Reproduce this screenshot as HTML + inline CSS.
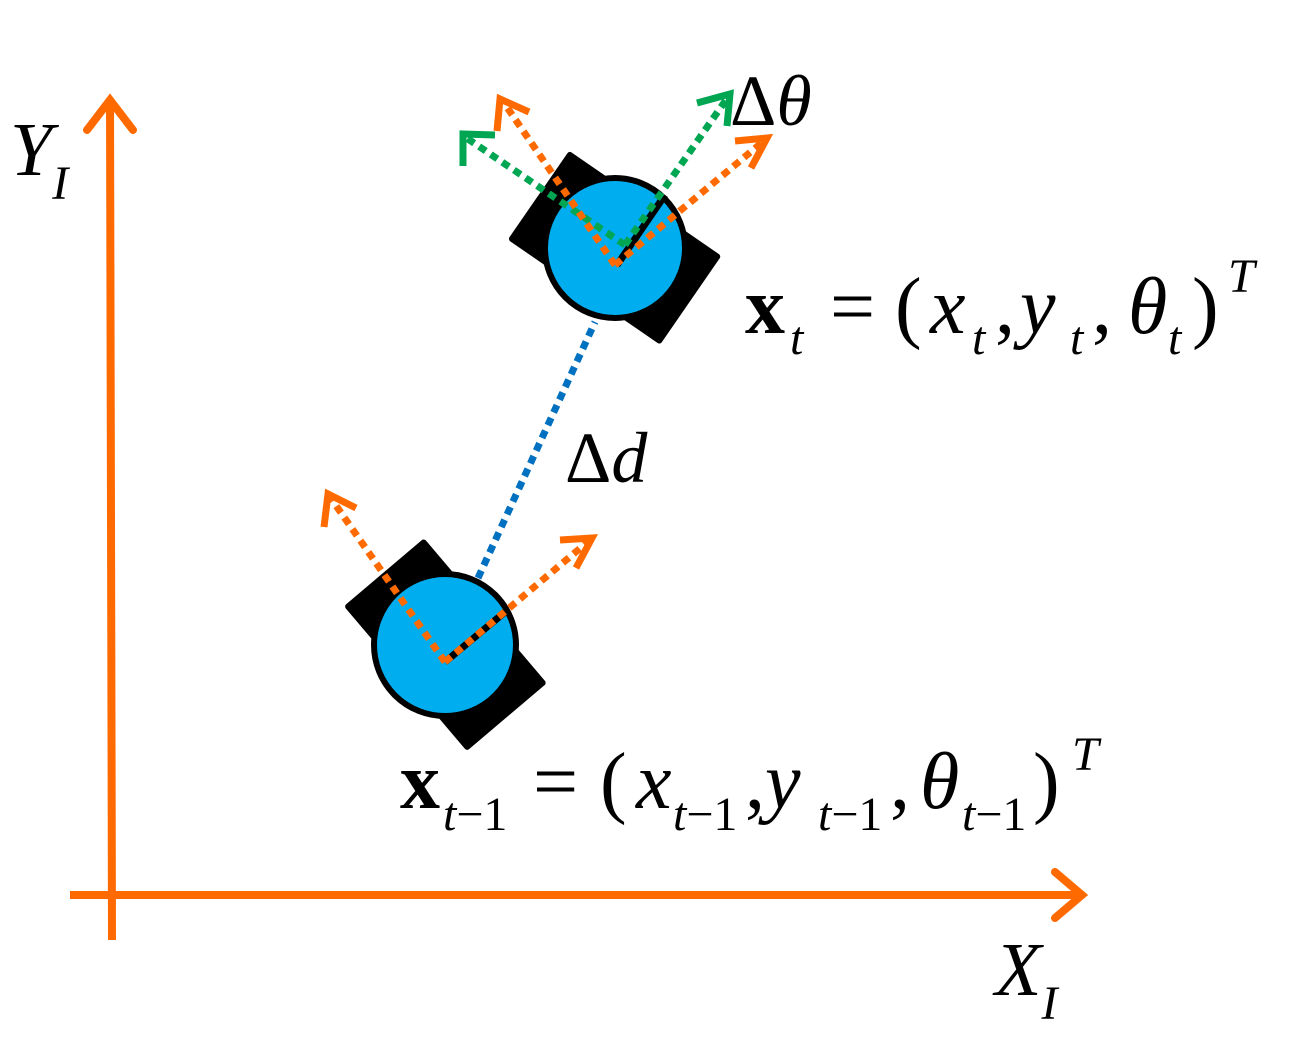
<!DOCTYPE html>
<html><head><meta charset="utf-8"><style>
html,body{margin:0;padding:0;background:#fff;}
svg{display:block;}
text{font-family:"Liberation Serif",serif;fill:#000;}
.it{font-style:italic;}
.up{font-style:normal;}
</style></head><body>
<svg width="1310" height="1053" viewBox="0 0 1310 1053">
<g stroke="#FF6A00" stroke-width="8" fill="none" stroke-linecap="round">
  <line x1="112" y1="940" x2="110" y2="100" stroke-linecap="butt"/>
  <polyline points="87,130 110,100 133,130"/>
</g>
<g stroke="#FF6A00" stroke-width="8" fill="none" stroke-linecap="round">
  <line x1="70" y1="895" x2="1082" y2="895" stroke-linecap="butt"/>
  <polyline points="1055,872 1082,895 1055,918"/>
</g>
<text class="it" x="10" y="175" font-size="76">Y<tspan font-size="48" dy="24">I</tspan></text>
<text class="it" x="995" y="995" font-size="76">X<tspan font-size="48" dy="24">I</tspan></text>

<line x1="478" y1="578" x2="595" y2="322" stroke="#0070C0" stroke-width="7" stroke-dasharray="8,6"/>
<text x="565" y="482" font-size="72"><tspan class="up">Δ</tspan><tspan class="it">d</tspan></text>

<g>
  <rect x="350" y="592" width="190" height="105" fill="#000" transform="rotate(49.7 445 645)" rx="3"/>
  <circle cx="445" cy="645" r="71" fill="#00AEEF" stroke="#000" stroke-width="6"/>
  <line x1="445" y1="662" x2="505" y2="612" stroke="#000" stroke-width="7"/>
  <g stroke="#FF6A00" stroke-width="7" fill="none" stroke-dasharray="8,6">
    <line x1="445" y1="662" x2="590" y2="540"/>
    <line x1="445" y1="662" x2="330" y2="497"/>
  </g>
  <g stroke="#FF6A00" stroke-width="7" fill="none">
    <polyline points="560,540 592,538 576,568"/>
    <polyline points="324,527 328,494 356,508"/>
  </g>
</g>

<g>
  <rect x="522" y="194" width="185" height="108" fill="#000" transform="rotate(34.6 615 248)" rx="3"/>
  <circle cx="615" cy="248" r="70" fill="#00AEEF" stroke="#000" stroke-width="6"/>
  <line x1="617" y1="265" x2="665" y2="195" stroke="#000" stroke-width="7"/>
  <g stroke="#00A651" stroke-width="7" fill="none" stroke-dasharray="8,6">
    <line x1="625" y1="245" x2="728" y2="97"/>
    <line x1="625" y1="245" x2="465" y2="137"/>
  </g>
  <g stroke="#FF6A00" stroke-width="7" fill="none" stroke-dasharray="8,6">
    <line x1="615" y1="265" x2="765" y2="140"/>
    <line x1="615" y1="265" x2="502" y2="100"/>
  </g>
  <g stroke="#00A651" stroke-width="7" fill="none">
    <polyline points="697,103 730,94 727,126"/>
    <polyline points="463,166 463,134 495,135"/>
  </g>
  <g stroke="#FF6A00" stroke-width="7" fill="none">
    <polyline points="735,141 767,138 751,168"/>
    <polyline points="497,131 500,99 529,112"/>
  </g>
</g>
<text x="730" y="125" font-size="72"><tspan class="up">Δ</tspan><tspan class="it">θ</tspan></text>

<g font-size="80">
  <text x="745" y="333" font-weight="bold">x</text>
  <text x="790" y="354" class="it" font-size="48">t</text>
  <text x="830" y="333">=</text>
  <text x="895" y="333">(</text>
  <text x="930" y="333" class="it">x</text>
  <text x="972" y="354" class="it" font-size="48">t</text>
  <text x="995" y="333">,</text>
  <text x="1020" y="333" class="it">y</text>
  <text x="1070" y="354" class="it" font-size="48">t</text>
  <text x="1092" y="333">,</text>
  <text x="1128" y="333" class="it">θ</text>
  <text x="1168" y="354" class="it" font-size="48">t</text>
  <text x="1192" y="333">)</text>
  <text x="1228" y="292" class="it" font-size="48">T</text>
</g>
<g font-size="80">
  <text x="400" y="808" font-weight="bold">x</text>
  <text x="443" y="830" class="it" font-size="48">t<tspan font-style="normal">−1</tspan></text>
  <text x="533" y="808">=</text>
  <text x="600" y="808">(</text>
  <text x="636" y="808" class="it">x</text>
  <text x="673" y="830" class="it" font-size="48">t<tspan font-style="normal">−1</tspan></text>
  <text x="745" y="808">,</text>
  <text x="765" y="808" class="it">y</text>
  <text x="818" y="830" class="it" font-size="48">t<tspan font-style="normal">−1</tspan></text>
  <text x="890" y="808">,</text>
  <text x="920" y="808" class="it">θ</text>
  <text x="962" y="830" class="it" font-size="48">t<tspan font-style="normal">−1</tspan></text>
  <text x="1033" y="808">)</text>
  <text x="1072" y="770" class="it" font-size="48">T</text>
</g>
</svg>
</body></html>
